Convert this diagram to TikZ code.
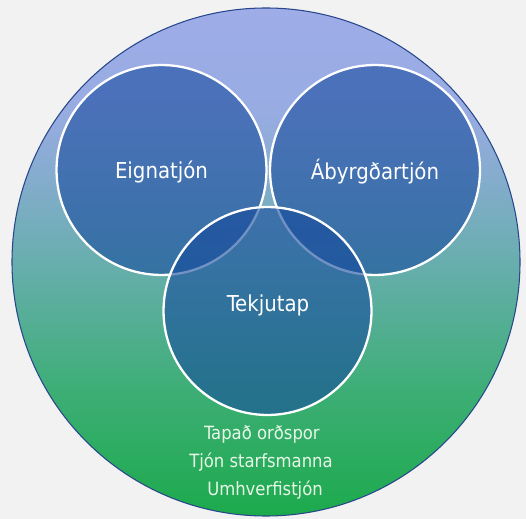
\documentclass[tikz,border=0pt]{standalone}
\usepackage{fontspec}
\setmainfont{DejaVu Sans Condensed}
\definecolor{bga}{RGB}{158,172,232}
\definecolor{bgb}{RGB}{152,172,226}
\definecolor{bgc}{RGB}{132,172,204}
\definecolor{bgd}{RGB}{104,174,174}
\definecolor{bge}{RGB}{60,174,116}
\definecolor{bgf}{RGB}{28,170,76}
\definecolor{rimblue}{RGB}{40,70,140}
\definecolor{pagegray}{RGB}{242,242,242}
\definecolor{vennblue}{RGB}{22,74,157}
\definecolor{paletext}{RGB}{232,246,232}
\pgfdeclareverticalshading{bigbg}{100bp}{color(0bp)=(bgf); color(25bp)=(bgf); color(37bp)=(bge); color(50bp)=(bgd); color(58bp)=(bgc); color(65bp)=(bgb); color(75bp)=(bga); color(100bp)=(bga)}
\begin{document}
\begin{tikzpicture}[x=0.02cm,y=-0.02cm,
  lbl/.style={text=white,font=\fontsize{12.5}{15}\selectfont,inner sep=0pt},
  sublbl/.style={text=paletext,font=\fontsize{10.4}{13}\selectfont,inner sep=0pt},
  venn/.style={circle,fill=vennblue,fill opacity=0.6,draw=white,line width=1.3pt,text opacity=1}]
\fill[pagegray] (0,0) rectangle (526,519);
\useasboundingbox (0,0) rectangle (526,519);
\shade[shading=bigbg] (266,262) circle (254);
\draw[rimblue,line width=0.6pt] (266,262) circle (254);
\node[venn,minimum size=4.2cm] (e) at (161.5,170) {};
\node[venn,minimum size=4.2cm] (a) at (375,170) {};
\node[venn,minimum size=4.16cm] (t) at (267.5,311) {};
\node[lbl] (el) at (161.5,172) {Eignatjón};
\node[lbl] (al) at (375,172) {Ábyrgðartjón};
\node[lbl] (tl) at (268,305) {Tekjutap};
\node[sublbl] (l1) at (262,434) {Tapað orðspor};
\node[sublbl] (l2) at (261,462) {Tjón starfsmanna};
\node[sublbl] (l3) at (265,490) {Umhverfistjón};
\end{tikzpicture}
\end{document}
